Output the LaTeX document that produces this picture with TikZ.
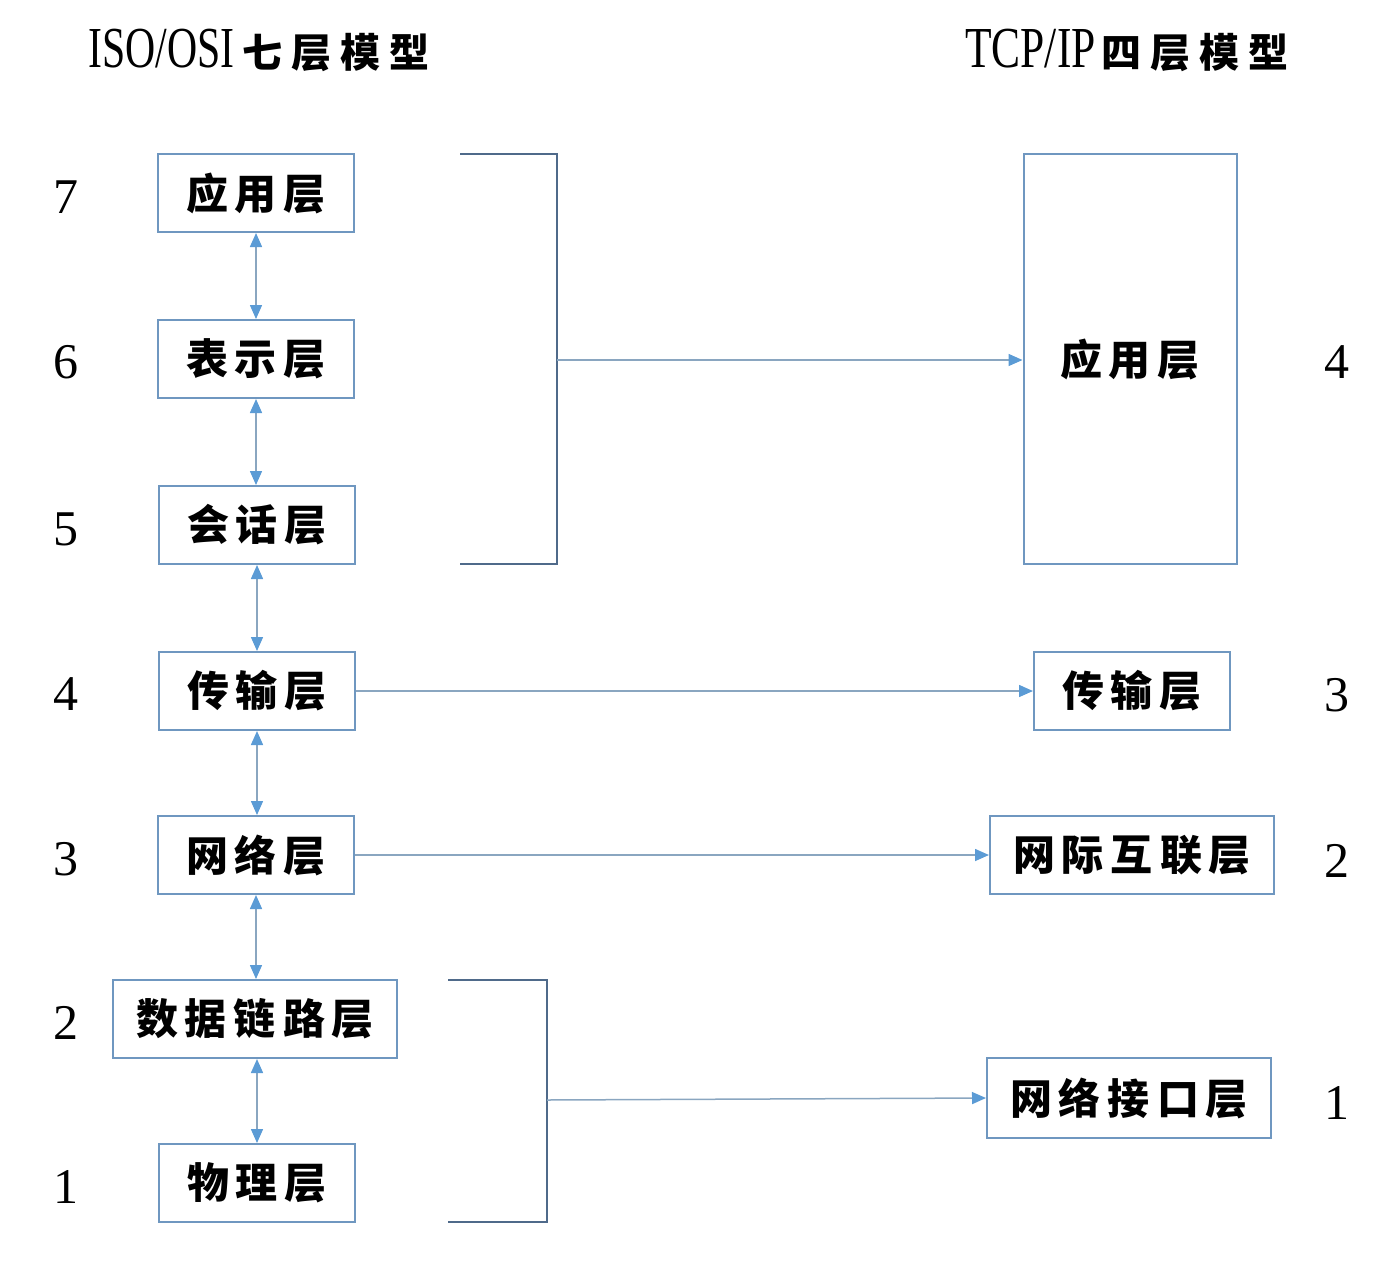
\documentclass[tikz,border=0pt]{standalone}
\usepackage{fontspec}
\usepackage{graphicx}
\usetikzlibrary{arrows.meta}
\newfontfamily\cjk{Noto Sans CJK SC}
\newfontfamily\serifnum{Liberation Serif}
\definecolor{boxc}{HTML}{6F97C0}
\definecolor{brc}{HTML}{4F6A8A}
\definecolor{linec}{HTML}{8AA6C0}
\definecolor{tipc}{HTML}{5B9BD5}
\begin{document}
\begin{tikzpicture}[x=1pt,y=-1pt,
  layer/.style={draw=boxc, line width=2pt, minimum height=78pt, minimum width=196pt, inner sep=0pt,
    font=\cjk\bfseries\fontsize{42}{42}\selectfont},
  wide/.style={layer, minimum width=284pt},
  num/.style={font=\serifnum\fontsize{50}{50}\selectfont, inner sep=0pt},
  ttl/.style={anchor=west, inner sep=0pt},
  bracket/.style={draw=brc, line width=2pt},
  link/.style={draw=linec, line width=1.5pt, -{Triangle[length=14pt,width=12pt,fill=tipc,color=tipc]}},
  dlink/.style={draw=linec, line width=1.5pt, {Triangle[length=14pt,width=12pt,fill=tipc,color=tipc]}-{Triangle[length=14pt,width=12pt,fill=tipc,color=tipc]}}
]
\useasboundingbox (0,0) rectangle (1390,1262);

% titles
\node[ttl] (t1) at (88,50) {{\serifnum\fontsize{58}{58}\selectfont\scalebox{0.72}[1]{ISO/OSI}}\hspace{8pt}{\cjk\bfseries\fontsize{40}{40}\selectfont 七\hspace{9pt}层\hspace{9pt}模\hspace{9pt}型}};
\node[ttl] (t2) at (965,50) {{\serifnum\fontsize{58}{58}\selectfont\scalebox{0.75}[1]{TCP/IP}}\hspace{6pt}{\cjk\bfseries\fontsize{40}{40}\selectfont 四\hspace{9pt}层\hspace{9pt}模\hspace{9pt}型}};

% left column
\node[layer] (l7) at (256,193) {应\hspace{7pt}用\hspace{7pt}层};
\node[layer] (l6) at (256,359) {表\hspace{7pt}示\hspace{7pt}层};
\node[layer] (l5) at (257,525) {会\hspace{7pt}话\hspace{7pt}层};
\node[layer] (l4) at (257,691) {传\hspace{7pt}输\hspace{7pt}层};
\node[layer] (l3) at (256,855) {网\hspace{7pt}络\hspace{7pt}层};
\node[wide]  (l2) at (255,1019) {数\hspace{7pt}据\hspace{7pt}链\hspace{7pt}路\hspace{7pt}层};
\node[layer] (l1) at (257,1183) {物\hspace{7pt}理\hspace{7pt}层};

% left numbers
\node[num] (n7) at (66,197) {7};
\node[num] (n6) at (66,362) {6};
\node[num] (n5) at (66,529) {5};
\node[num] (n4) at (66,694) {4};
\node[num] (n3) at (66,859) {3};
\node[num] (n2) at (66,1023) {2};
\node[num] (n1) at (66,1187) {1};

% right column
\node[layer, minimum width=213pt, minimum height=410pt] (r4) at (1130,359) {应\hspace{7pt}用\hspace{7pt}层};
\node[layer] (r3) at (1132,691) {传\hspace{7pt}输\hspace{7pt}层};
\node[wide]  (r2) at (1132,855) {网\hspace{7pt}际\hspace{7pt}互\hspace{7pt}联\hspace{7pt}层};
\node[wide, minimum height=80pt] (r1) at (1129,1098) {网\hspace{7pt}络\hspace{7pt}接\hspace{7pt}口\hspace{7pt}层};

% right numbers
\node[num] (m4) at (1337,362) {4};
\node[num] (m3) at (1337,695) {3};
\node[num] (m2) at (1337,861) {2};
\node[num] (m1) at (1337,1103) {1};

% vertical double arrows
\draw[dlink] (l7.south) -- (l7.south |- l6.north);
\draw[dlink] (l6.south) -- (l6.south |- l5.north);
\draw[dlink] (l5.south) -- (l5.south |- l4.north);
\draw[dlink] (l4.south) -- (l4.south |- l3.north);
\draw[dlink] (l3.south) -- (l3.south |- l2.north);
\draw[dlink] (l1.north |- l2.south) -- (l1.north);

% brackets
\coordinate (ba) at (557,360);
\coordinate (bb) at (547,1100);
\draw[bracket] (460,154) -- (557,154) -- (557,564) -- (460,564);
\draw[bracket] (448,980) -- (547,980) -- (547,1222) -- (448,1222);

% horizontal arrows
\draw[link] (ba) -- (r4.west |- ba);
\draw[link] (l4.east) -- (r3.west);
\draw[link] (l3.east) -- (r2.west);
\draw[link] (bb) -- (r1.west);
\end{tikzpicture}
\end{document}
